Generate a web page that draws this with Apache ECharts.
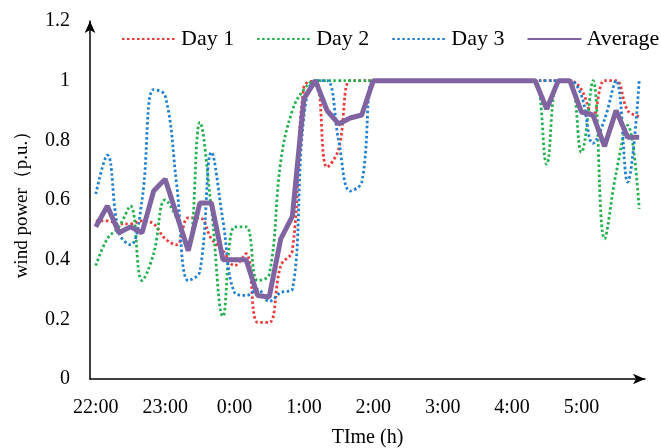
<!DOCTYPE html>
<html>
<head>
<meta charset="utf-8">
<script src="https://cdn.jsdelivr.net/npm/echarts@6/dist/echarts.min.js"></script>
<style>
  html, body { margin: 0; padding: 0; background: #fff; }
  #chart { width: 661px; height: 448px; }
</style>
</head>
<body>
<div id="chart"></div>
<script>
// time of day, every 10 minutes
var times = ["22:00","22:10","22:20","22:30","22:40","22:50",
             "23:00","23:10","23:20","23:30","23:40","23:50",
             "0:00","0:10","0:20","0:30","0:40","0:50",
             "1:00","1:10","1:20","1:30","1:40","1:50",
             "2:00","2:10","2:20","2:30","2:40","2:50",
             "3:00","3:10","3:20","3:30","3:40","3:50",
             "4:00","4:10","4:20","4:30","4:40","4:50",
             "5:00","5:10","5:20","5:30","5:40","5:50"];

var day1 = [0.53,0.53,0.52,0.52,0.53,0.52,0.47,0.45,0.54,0.54,0.47,0.43,
            0.38,0.42,0.19,0.19,0.38,0.43,0.98,1.00,0.71,0.77,1.00,1.00,
            1.00,1.00,1.00,1.00,1.00,1.00,1.00,1.00,1.00,1.00,1.00,1.00,
            1.00,1.00,1.00,1.00,1.00,1.00,0.97,0.88,1.00,1.00,0.90,0.88];

var day2 = [0.38,0.47,0.51,0.58,0.33,0.42,0.60,0.54,0.44,0.86,0.57,0.21,
            0.51,0.51,0.33,0.35,0.73,0.90,0.97,1.00,1.00,1.00,1.00,1.00,
            1.00,1.00,1.00,1.00,1.00,1.00,1.00,1.00,1.00,1.00,1.00,1.00,
            1.00,1.00,1.00,0.72,1.00,1.00,0.76,1.00,0.47,0.69,0.85,0.57];

var day3 = [0.62,0.75,0.49,0.45,0.60,0.97,0.95,0.65,0.33,0.36,0.76,0.53,
            0.29,0.28,0.30,0.26,0.29,0.30,0.88,1.00,1.00,0.80,0.63,0.66,
            1.00,1.00,1.00,1.00,1.00,1.00,1.00,1.00,1.00,1.00,1.00,1.00,
            1.00,1.00,1.00,1.00,1.00,1.00,0.95,0.79,0.87,1.00,0.66,1.00];

var average = [0.51,0.58,0.49,0.51,0.49,0.63,0.67,0.55,0.43,0.59,0.59,0.40,
               0.40,0.40,0.28,0.275,0.47,0.545,0.94,1.00,0.90,0.855,0.875,0.885,
               1.00,1.00,1.00,1.00,1.00,1.00,1.00,1.00,1.00,1.00,1.00,1.00,
               1.00,1.00,1.00,0.905,1.00,1.00,0.895,0.885,0.78,0.90,0.81,0.81];

var chart = echarts.init(document.getElementById('chart'));
var serif = 'Liberation Serif';
var dots = [2.5, 2.5];

function dotted(name, data, color) {
  return {
    name: name, type: 'line', data: data,
    smooth: 0.4, showSymbol: false, symbol: 'none',
    lineStyle: { color: color, width: 2.8, type: dots, cap: 'butt' },
    itemStyle: { color: color }
  };
}

var option = {
  animation: false,
  backgroundColor: '#fff',
  textStyle: { fontFamily: serif, color: '#000' },
  grid: { left: 90, right: 16, top: 21, bottom: 69, outerBoundsMode: 'none', containLabel: false },
  legend: {
    left: 121, top: 28, width: 545, padding: 0,
    itemWidth: 54, itemHeight: 14, itemGap: 22,
    itemStyle: { opacity: 0 },
    textStyle: { fontFamily: serif, fontSize: 22, color: '#000' },
    data: ['Day 1', 'Day 2', 'Day 3', 'Average']
  },
  xAxis: {
    type: 'category',
    data: times,
    boundaryGap: true,
    name: 'TIme (h)',
    nameLocation: 'middle',
    nameGap: 49,
    nameTextStyle: { fontFamily: serif, fontSize: 20, color: '#000' },
    axisLine: { lineStyle: { color: '#000', width: 1.5 }, symbol: ['none', 'arrow'], symbolSize: [8, 12] },
    axisTick: { inside: true, length: 6, interval: 1, lineStyle: { color: '#000', width: 1.2 } },
    axisLabel: { interval: 5, margin: 19, fontFamily: serif, fontSize: 20, color: '#000' },
    splitLine: { show: false }
  },
  yAxis: {
    type: 'value',
    min: 0, max: 1.2, interval: 0.2,
    name: 'wind power（p.u.）',
    nameLocation: 'middle',
    nameGap: 58,
    nameTextStyle: { fontFamily: serif, fontSize: 19, color: '#000' },
    axisLine: { show: true, lineStyle: { color: '#000', width: 1.5 }, symbol: ['none', 'arrow'], symbolSize: [8, 12] },
    axisTick: { show: false },
    axisLabel: { margin: 20, fontFamily: serif, fontSize: 20, color: '#000' },
    splitLine: { show: false }
  },
  series: [
    dotted('Day 1', day1, '#f03a3a'),
    dotted('Day 2', day2, '#22b04e'),
    dotted('Day 3', day3, '#1f7fd2'),
    {
      name: 'Average', type: 'line', data: average,
      showSymbol: false, symbol: 'none', z: 5,
      lineStyle: { color: '#8064a2', width: 5 },
      itemStyle: { color: '#8064a2' }
    }
  ]
};

chart.setOption(option);
</script>
</body>
</html>
